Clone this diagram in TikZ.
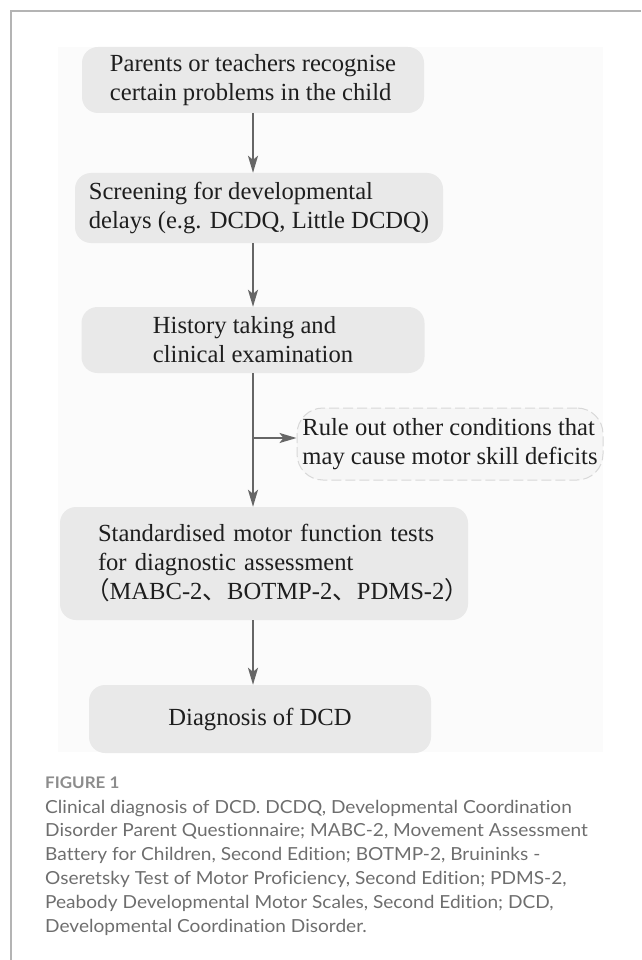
\documentclass[tikz,border=0pt]{standalone}
\usepackage{fontspec}
\setmainfont{Liberation Serif}
\newfontfamily\cjkfont{Noto Sans CJK SC}
\newfontfamily\capfont[FakeStretch=1.06, Ligatures=NoCommon]{Lato}
\usetikzlibrary{arrows.meta}

\definecolor{boxgray}{HTML}{E9E9E9}
\definecolor{ruleoutgray}{HTML}{F6F6F6}
\definecolor{dashgray}{HTML}{D8D8D8}
\definecolor{arrowgray}{HTML}{666666}
\definecolor{ink}{HTML}{1E1E1E}
\definecolor{framegray}{HTML}{B4B4B4}
\definecolor{capgray}{HTML}{6E6E6E}
\definecolor{figgray}{HTML}{8C8C8C}
\definecolor{panelwhite}{HTML}{FBFBFB}

\begin{document}
\begin{tikzpicture}[x=1pt, y=-1pt,
    stage/.style={fill=boxgray, rounded corners=16pt, text=ink, align=left,
        inner sep=0pt, font=\fontsize{24.6}{29}\selectfont},
    flow/.style={draw=arrowgray, line width=2pt,
        -{Stealth[length=17pt,width=10pt,inset=4pt]}},
    captext/.style={text=capgray, font=\capfont\fontsize{18}{24}\selectfont,
        inner sep=0pt, anchor=base west}]

\useasboundingbox (0,0) rectangle (641,960);

% Frame
\draw[framegray, line width=1.5pt] (11,960) -- (11,11) -- (641,11);

% Panel
\fill[panelwhite] (58,47) rectangle (603,752);

% Steps
\node[stage, minimum width=342pt, minimum height=66pt] (parents) at (253,80)
    {Parents or teachers recognise\\certain problems in the child};
\node[stage, minimum width=368pt, minimum height=70pt] (screen) at (259,208)
    {Screening for developmental\\delays (e.g. DCDQ, Little DCDQ)};
\node[stage, minimum width=343pt, minimum height=66pt] (history) at (253,340)
    {History taking and\\clinical examination};
\node[stage, fill=ruleoutgray, draw=dashgray, line width=1pt,
      dash pattern=on 10pt off 4pt, rounded corners=26pt,
      minimum width=306pt, minimum height=72pt] (ruleout) at (450,444)
    {Rule out other conditions that\\may cause motor skill deficits};
\node[stage, text width=332pt, inner xsep=38pt, minimum height=113pt] (tests)
    at (264,563.5)
    {\mbox{Standardised motor function tests}\\
     \mbox{for diagnostic assessment}\\
     \mbox{\hspace*{-13pt}{\cjkfont （}MABC-2{\cjkfont 、}BOTMP-2{\cjkfont 、}PDMS-2{\cjkfont ）}}};
\node[stage, minimum width=342pt, minimum height=68pt] (diag) at (260,719)
    {Diagnosis of DCD};

% Arrows
\coordinate (split) at (253,438);
\draw[flow] (parents.south) -- (parents.south |- screen.north);
\draw[flow] (parents.south |- screen.south) -- (parents.south |- history.north);
\draw[flow] (history.south) -- (history.south |- tests.north);
\draw[flow] (split) -- (split -| ruleout.west);
\draw[flow] (history.south |- tests.south) -- (history.south |- diag.north);

% Caption
\node[text=figgray, font=\capfont\bfseries\fontsize{16}{18}\selectfont,
      inner sep=0pt, anchor=base west] (figlabel) at (45,788) {FIGURE 1};
\node[captext] (capA) at (45,813)
    {Clinical diagnosis of DCD. DCDQ, Developmental Coordination};
\node[captext] (capB) at (45,836.8)
    {Disorder Parent Questionnaire; MABC-2, Movement Assessment};
\node[captext] (capC) at (45,860.6)
    {Battery for Children, Second Edition; BOTMP-2, Bruininks -};
\node[captext] (capD) at (45,884.4)
    {Oseretsky Test of Motor Proficiency, Second Edition; PDMS-2,};
\node[captext] (capE) at (45,908.2)
    {Peabody Developmental Motor Scales, Second Edition; DCD,};
\node[captext] (capF) at (45,932)
    {Developmental Coordination Disorder.};

\end{tikzpicture}
\end{document}
